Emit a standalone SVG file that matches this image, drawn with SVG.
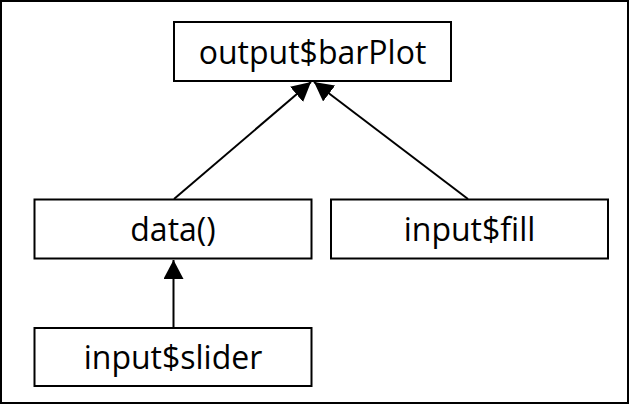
<svg xmlns="http://www.w3.org/2000/svg" width="630" height="405" viewBox="0 0 630 405">
  <style>
    .box { fill: #ffffff; stroke: #000000; stroke-width: 2; }
    .lbl { font-family: "Open Sans", "Liberation Sans", sans-serif; font-size: 32px; fill: #000000; text-anchor: middle; }
    .edge { stroke: #000000; stroke-width: 2; fill: none; marker-end: url(#arrow); }
  </style>
  <defs>
    <marker id="arrow" markerUnits="userSpaceOnUse" markerWidth="20" markerHeight="20" refX="19" refY="10" orient="auto">
      <path d="M0,0 L19,10 L0,20 Z" fill="#000000"/>
    </marker>
  </defs>
  <rect x="0" y="0" width="630" height="405" fill="#ffffff"/>
  <rect x="1" y="1" width="627" height="402" fill="none" stroke="#000000" stroke-width="2"/>
  <g id="connectors">
    <line class="edge" x1="174" y1="199" x2="311" y2="82"/>
    <line class="edge" x1="468" y1="199" x2="314" y2="82"/>
    <line class="edge" x1="173.5" y1="328" x2="173.5" y2="260"/>
  </g>
  <g id="node-output-barPlot">
    <rect class="box" x="174" y="22" width="277" height="59"/>
    <text class="lbl" x="312.5" y="63.5">output$barPlot</text>
  </g>
  <g id="node-data">
    <rect class="box" x="34.5" y="199.5" width="277" height="59"/>
    <text class="lbl" x="173" y="241">data()</text>
  </g>
  <g id="node-input-fill">
    <rect class="box" x="331" y="199.5" width="277" height="59"/>
    <text class="lbl" x="469.5" y="241">input$fill</text>
  </g>
  <g id="node-input-slider">
    <rect class="box" x="34.5" y="328" width="277" height="58"/>
    <text class="lbl" x="173" y="369">input$slider</text>
  </g>
</svg>
